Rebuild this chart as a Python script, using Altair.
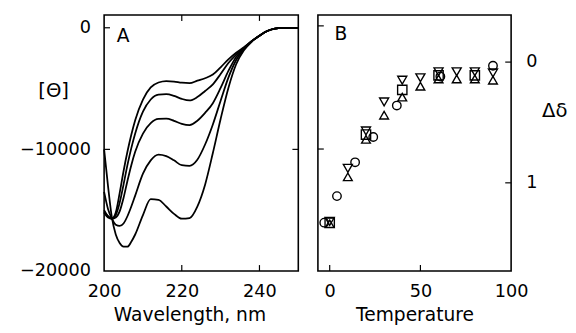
import altair as alt
import pandas as pd

FONT = "DejaVu Sans"

# ---------------- Panel A: CD spectra ----------------
wavelengths = [200, 201, 202, 203, 204, 205, 206, 207, 208, 210, 212, 214, 216, 218, 220,
               222, 224, 226, 228, 230, 232, 234, 236, 238, 240, 242, 244, 246, 248, 250]
curve1 = [-15000, -15500, -15700, -15200, -13600, -11800, -10200, -8800, -7600, -5900, -4900,
          -4500, -4380, -4420, -4520, -4560, -4350, -4150, -3850, -3250, -2600, -2050, -1600,
          -1100, -650, -270, -60, -10, 0, 0]
curve2 = [-15100, -15500, -15700, -15400, -14400, -12900, -11300, -9900, -8700, -6900, -5900,
          -5500, -5460, -5600, -5850, -5980, -5700, -5200, -4650, -3800, -2900, -2200, -1650,
          -1100, -650, -270, -60, -10, 0, 0]
curve3 = [-15200, -15600, -15700, -15600, -15100, -14000, -12600, -11300, -10200, -8700, -7850,
          -7500, -7480, -7650, -7900, -8000, -7650, -7000, -6200, -4950, -3550, -2400, -1700,
          -1100, -650, -270, -60, -10, 0, 0]
curve4 = [-13500, -14900, -15700, -16200, -16300, -16100, -15500, -14700, -13800, -12000, -10900,
          -10430, -10550, -10900, -11300, -11350, -10850, -9600, -7950, -6000, -4100, -2650, -1750,
          -1100, -650, -270, -60, -10, 0, 0]
curve5 = [-10000, -13000, -15600, -17000, -17700, -18000, -18000, -17600, -17000, -15400, -14100,
          -14150, -14700, -15300, -15700, -15650, -14700, -12900, -10300, -7500, -4950, -3000, -1850,
          -1150, -650, -270, -60, -10, 0, 0]
curves = {"c1": curve1, "c2": curve2, "c3": curve3, "c4": curve4, "c5": curve5}

a_x_ticks = [200, 220, 240]
a_y_ticks = [0, -10000, -20000]
a_in_xticks = [220, 240]
a_in_yticks = [0, -10000]

# ---------------- Panel B: temperature dependence ----------------
circle_T = [-3, 4, 14, 24, 37, 61, 90]
circle_d = [1.33, 1.11, 0.83, 0.62, 0.36, 0.12, 0.03]
tri_up_T = [0, 10, 20, 30, 40, 50, 60, 70, 80, 90]
tri_up_d = [1.34, 0.95, 0.64, 0.44, 0.29, 0.2, 0.14, 0.14, 0.14, 0.15]
tri_down_T = [0, 10, 20, 30, 40, 50, 60, 70, 80, 90]
tri_down_d = [1.32, 0.88, 0.57, 0.33, 0.15, 0.13, 0.08, 0.08, 0.08, 0.09]
square_T = [0, 20, 40, 60, 80]
square_d = [1.33, 0.6, 0.23, 0.11, 0.11]

b_x_ticks = [0, 50, 100]
b_y_ticks = [0, 1]
b_in_xticks = [0, 50]
b_in_left = [-0.3, 0.72]
b_in_right = [0, 1]

# ---------------- tables ----------------
dfA = pd.DataFrame([
    {"wl": w, "theta": v, "curve": k}
    for k, vals in curves.items() for w, v in zip(wavelengths, vals)
])
rows = []
for name, T, D in [("circle", circle_T, circle_d), ("up", tri_up_T, tri_up_d),
                   ("down", tri_down_T, tri_down_d), ("square", square_T, square_d)]:
    rows += [{"T": t, "d": d, "s": name} for t, d in zip(T, D)]
dfB = pd.DataFrame(rows)

xa = alt.Scale(domain=[200, 250], nice=False, zero=False)
ya = alt.Scale(domain=[-20000, 1050], nice=False, zero=False)
xb = alt.Scale(domain=[-6.5, 100], nice=False, zero=False)
yb = alt.Scale(domain=[-0.39, 1.73], nice=False, zero=False, reverse=True)

ax_xa = alt.Axis(values=a_x_ticks, title="Wavelength, nm", labelPadding=12, titlePadding=5,
                 titleX=87, titleFontSize=19)
ax_ya = alt.Axis(values=a_y_ticks, format="d", title="[Θ]", labelPadding=14, titleAngle=0,
                 titleX=-52, titleY=77, titleAlign="center", titleBaseline="middle", titleFontSize=20)
ax_xb = alt.Axis(values=b_x_ticks, title="Temperature", labelPadding=12, titlePadding=5,
                 titleFontSize=19)
ax_yb = alt.Axis(values=b_y_ticks, orient="right", title="Δδ", labelPadding=15, titleAngle=0,
                 titleX=44, titleY=97, titleAlign="center", titleBaseline="middle", titleFontSize=20)

WA, HA = 198, 261
WB = 197
TL = 6

lines = alt.Chart(dfA).mark_line(interpolate="monotone", color="black", strokeWidth=1.8).encode(
    x=alt.X("wl:Q", scale=xa, axis=ax_xa),
    y=alt.Y("theta:Q", scale=ya, axis=ax_ya),
    detail="curve:N",
)

def yticks(vals, field, scale, axis, side, w):
    x0, x1 = (0, TL) if side == "left" else (w - TL, w)
    return alt.Chart(pd.DataFrame({field: vals})).mark_rule(color="black", strokeWidth=1.2).encode(
        y=alt.Y(f"{field}:Q", scale=scale, axis=axis), x=alt.value(x0), x2=alt.value(x1))

def xticks(vals, field, scale, axis, side, h):
    y0, y1 = (h - TL, h) if side == "bottom" else (0, TL)
    return alt.Chart(pd.DataFrame({field: vals})).mark_rule(color="black", strokeWidth=1.2).encode(
        x=alt.X(f"{field}:Q", scale=scale, axis=axis), y=alt.value(y0), y2=alt.value(y1))

labelA = alt.Chart(pd.DataFrame({"t": ["A"]})).mark_text(
    font=FONT, fontSize=19, align="left", baseline="top", color="black").encode(
    text="t:N", x=alt.value(13), y=alt.value(13))

panelA = alt.layer(
    lines,
    yticks(a_in_yticks, "theta", ya, ax_ya, "left", WA),
    yticks(a_in_yticks, "theta", ya, ax_ya, "right", WA),
    xticks(a_in_xticks, "wl", xa, ax_xa, "bottom", HA),
    xticks(a_in_xticks, "wl", xa, ax_xa, "top", HA),
    labelA,
).properties(width=WA, height=HA)

points = alt.Chart(dfB).mark_point(filled=False, color="black", strokeWidth=1.4, opacity=1).encode(
    x=alt.X("T:Q", scale=xb, axis=ax_xb),
    y=alt.Y("d:Q", scale=yb, axis=ax_yb),
    shape=alt.Shape("s:N", scale=alt.Scale(domain=["circle", "up", "down", "square"],
                                           range=["circle", "triangle-up", "triangle-down", "square"]),
                    legend=None),
    size=alt.Size("s:N", scale=alt.Scale(domain=["circle", "up", "down", "square"],
                                         range=[75, 90, 90, 55]), legend=None),
)

labelB = alt.Chart(pd.DataFrame({"t": ["B"]})).mark_text(
    font=FONT, fontSize=19, align="left", baseline="top", color="black").encode(
    text="t:N", x=alt.value(17), y=alt.value(10))

panelB = alt.layer(
    points,
    yticks(b_in_left, "d", yb, ax_yb, "left", WB),
    yticks(b_in_right, "d", yb, ax_yb, "right", WB),
    xticks(b_in_xticks, "T", xb, ax_xb, "bottom", HA),
    labelB,
).properties(width=WB, height=HA)

chart = alt.hconcat(panelA, panelB, spacing=13).properties(
    padding={"left": 10, "top": 2, "right": 0, "bottom": 0}
).configure_view(
    stroke="black", strokeWidth=1.6
).configure_axis(
    labelFont=FONT, titleFont=FONT, labelColor="black", titleColor="black",
    titleFontWeight="normal", grid=False, ticks=False, tickSize=0, domain=False,
    labelFontSize=18, titleFontSize=18, labelFlush=False,
)

chart.save("out.html", embed_options={"renderer": "svg", "actions": False})
